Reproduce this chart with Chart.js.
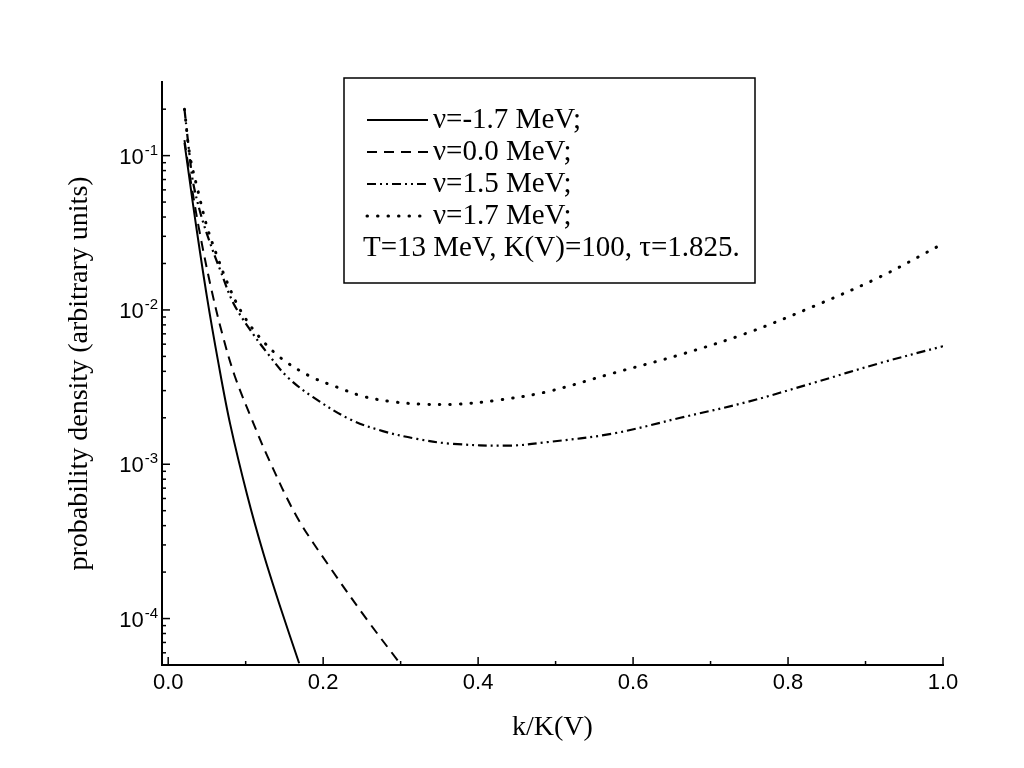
<!DOCTYPE html>
<html>
<head>
<meta charset="utf-8">
<script src="https://cdn.jsdelivr.net/npm/chart.js@4.4.0/dist/chart.umd.min.js"></script>
<style>
  body { margin: 0; background: #fff; }
  #c { display: block; }
</style>
</head>
<body>
<canvas id="c" width="1024" height="768"></canvas>
<script>
// values (x = k/K(V), y = probability density)
var xSolid = [0.021, 0.028, 0.035, 0.050, 0.065, 0.080, 0.102, 0.123, 0.145, 0.169];
var ySolid = [0.121, 0.0676, 0.0380, 0.01216, 0.00447, 0.00182, 0.00063, 0.000263, 0.0001175, 0.0000513];

var xDashed = [0.021, 0.028, 0.040, 0.055, 0.070, 0.086, 0.108, 0.129, 0.166, 0.209, 0.257, 0.299];
var yDashed = [0.126, 0.0741, 0.0331, 0.01413, 0.00692, 0.00372, 0.00195, 0.0011, 0.000457, 0.000214, 0.0000977, 0.0000513];

var xDashDot = [0.021, 0.027, 0.032, 0.042, 0.054, 0.067, 0.084, 0.106, 0.128, 0.154, 0.187, 0.235,
                0.277, 0.321, 0.364, 0.44, 0.489, 0.574, 0.661, 0.747, 0.832, 0.919, 1.0];
var yDashDot = [0.200, 0.107, 0.0676, 0.0417, 0.0272, 0.0182, 0.0111, 0.0074, 0.00525, 0.00367, 0.00272, 0.00195,
                0.00164, 0.00146, 0.00136, 0.00132, 0.00139, 0.00158, 0.00200, 0.00253, 0.00336, 0.00453, 0.00582];

var xDotted = [0.021, 0.028, 0.039, 0.050, 0.063, 0.076, 0.093, 0.115, 0.145, 0.183, 0.218, 0.252,
               0.290, 0.329, 0.373, 0.425, 0.489, 0.574, 0.661, 0.747, 0.832, 0.919, 1.0];
var yDotted = [0.200, 0.100, 0.0575, 0.0347, 0.0224, 0.01514, 0.0100, 0.00692, 0.0049, 0.00372, 0.00316, 0.00275,
               0.00254, 0.00245, 0.00245, 0.0026, 0.00295, 0.00389, 0.00513, 0.00708, 0.0105, 0.0164, 0.0269];

var seriesLabels = ['\u03bd=-1.7 MeV;', '\u03bd=0.0 MeV;', '\u03bd=1.5 MeV;', '\u03bd=1.7 MeV;'];
var noteText = 'T=13 MeV, K(V)=100, \u03c4=1.825.';

var xTicks = [0, 0.2, 0.4, 0.6, 0.8, 1.0];
var xMinorTicks = [0.1, 0.3, 0.5, 0.7, 0.9];
var yTicks = [1e-4, 1e-3, 1e-2, 1e-1];
var yTickExp = ['-4', '-3', '-2', '-1'];

var serif = "'Liberation Serif', 'Times New Roman', serif";
var sans = "'Liberation Sans', Arial, sans-serif";

function pts(xs, ys) {
  return xs.map(function (x, i) { return { x: x, y: ys[i] }; });
}

function line(ctx, x1, y1, x2, y2) {
  ctx.beginPath();
  ctx.moveTo(x1, y1);
  ctx.lineTo(x2, y2);
  ctx.stroke();
}

// inward ticks, tick labels with superscripts, boxed legend
var frame = {
  id: 'frame',
  beforeDraw: function (chart) {
    var ctx = chart.ctx;
    ctx.save();
    ctx.fillStyle = '#fff';
    ctx.fillRect(0, 0, chart.width, chart.height);
    ctx.restore();
  },
  afterDraw: function (chart) {
    var ctx = chart.ctx, xs = chart.scales.x, ys = chart.scales.y, a = chart.chartArea;
    ctx.save();
    ctx.strokeStyle = '#000';
    ctx.fillStyle = '#000';
    ctx.lineWidth = 1.5;

    xTicks.forEach(function (v) {
      var px = xs.getPixelForValue(v);
      line(ctx, px, a.bottom, px, a.bottom - 8);
    });
    xMinorTicks.forEach(function (v) {
      var px = xs.getPixelForValue(v);
      line(ctx, px, a.bottom, px, a.bottom - 4);
    });
    for (var n = -5; n <= 0; n++) {
      for (var k = 1; k <= 9; k++) {
        var v = k * Math.pow(10, n);
        if (v < ys.min || v > ys.max) continue;
        var py = ys.getPixelForValue(v);
        line(ctx, a.left, py, a.left + (k === 1 ? 8 : 4), py);
      }
    }

    ctx.font = '22px ' + sans;
    ctx.textAlign = 'center';
    ctx.textBaseline = 'middle';
    xTicks.forEach(function (v) {
      ctx.fillText(v.toFixed(1), xs.getPixelForValue(v), a.bottom + 18);
    });

    ctx.textAlign = 'right';
    ctx.textBaseline = 'alphabetic';
    yTicks.forEach(function (v, i) {
      var py = ys.getPixelForValue(v);
      ctx.font = '15px ' + sans;
      var w = ctx.measureText(yTickExp[i]).width;
      ctx.fillText(yTickExp[i], a.left - 4, py - 1);
      ctx.font = '22px ' + sans;
      ctx.fillText('10', a.left - 5 - w, py + 8);
    });

    // legend box
    var lx = a.left + 182, ly = a.top - 4;
    ctx.lineWidth = 1.5;
    ctx.strokeRect(lx, ly, 411, 205);
    ctx.font = '29px ' + serif;
    ctx.textAlign = 'left';
    ctx.textBaseline = 'middle';
    chart.data.datasets.forEach(function (ds, i) {
      var cy = ly + 42 + 32 * i;
      ctx.save();
      ctx.lineWidth = ds.borderWidth;
      ctx.lineCap = ds.borderCapStyle || 'butt';
      ctx.setLineDash(ds.borderDash || []);
      line(ctx, lx + 23, cy, lx + 84, cy);
      ctx.restore();
      ctx.fillText(ds.label, lx + 89, cy);
    });
    ctx.fillText(noteText, lx + 19, ly + 42 + 32 * 4);
    ctx.restore();
  }
};

var ctx1 = document.getElementById('c');

var config = {
  type: 'line',
  data: {
    datasets: [
      { label: seriesLabels[0], data: pts(xSolid, ySolid), borderColor: '#000', borderWidth: 2,
        borderDash: [] },
      { label: seriesLabels[1], data: pts(xDashed, yDashed), borderColor: '#000', borderWidth: 2,
        borderDash: [10, 7] },
      { label: seriesLabels[2], data: pts(xDashDot, yDashDot), borderColor: '#000', borderWidth: 2.2,
        borderDash: [9, 4, 2, 4, 2, 4] },
      { label: seriesLabels[3], data: pts(xDotted, yDotted), borderColor: '#000', borderWidth: 3,
        borderDash: [0.5, 10], borderCapStyle: 'round' }
    ]
  },
  options: {
    responsive: false,
    animation: false,
    devicePixelRatio: 1,
    layout: { padding: { top: 82, right: 81, bottom: 0, left: 0 } },
    elements: { point: { radius: 0 }, line: { tension: 0.35, fill: false } },
    plugins: { legend: { display: false }, tooltip: { enabled: false } },
    scales: {
      x: {
        type: 'linear',
        min: -0.008,
        max: 1.0,
        grid: { display: false },
        border: { display: true, width: 2, color: '#000' },
        ticks: { display: false },
        afterBuildTicks: function (s) { s.ticks = xTicks.map(function (v) { return { value: v }; }); },
        afterFit: function (s) { s.height = 103; },
        title: { display: true, text: 'k/K(V)', color: '#000',
                 font: { family: serif, size: 28 }, padding: { top: 0, bottom: 24 } }
      },
      y: {
        type: 'logarithmic',
        min: 5e-5,
        max: 0.3,
        grid: { display: false },
        border: { display: true, width: 2, color: '#000' },
        ticks: { display: false },
        afterBuildTicks: function (s) { s.ticks = yTicks.map(function (v) { return { value: v }; }); },
        afterFit: function (s) { s.width = 162; },
        title: { display: true, text: 'probability density (arbitrary units)', color: '#000',
                 font: { family: serif, size: 28 }, padding: { top: 63, bottom: 0 } }
      }
    }
  },
  plugins: [frame]
};

var myChart = new Chart(ctx1, config);
</script>
</body>
</html>
